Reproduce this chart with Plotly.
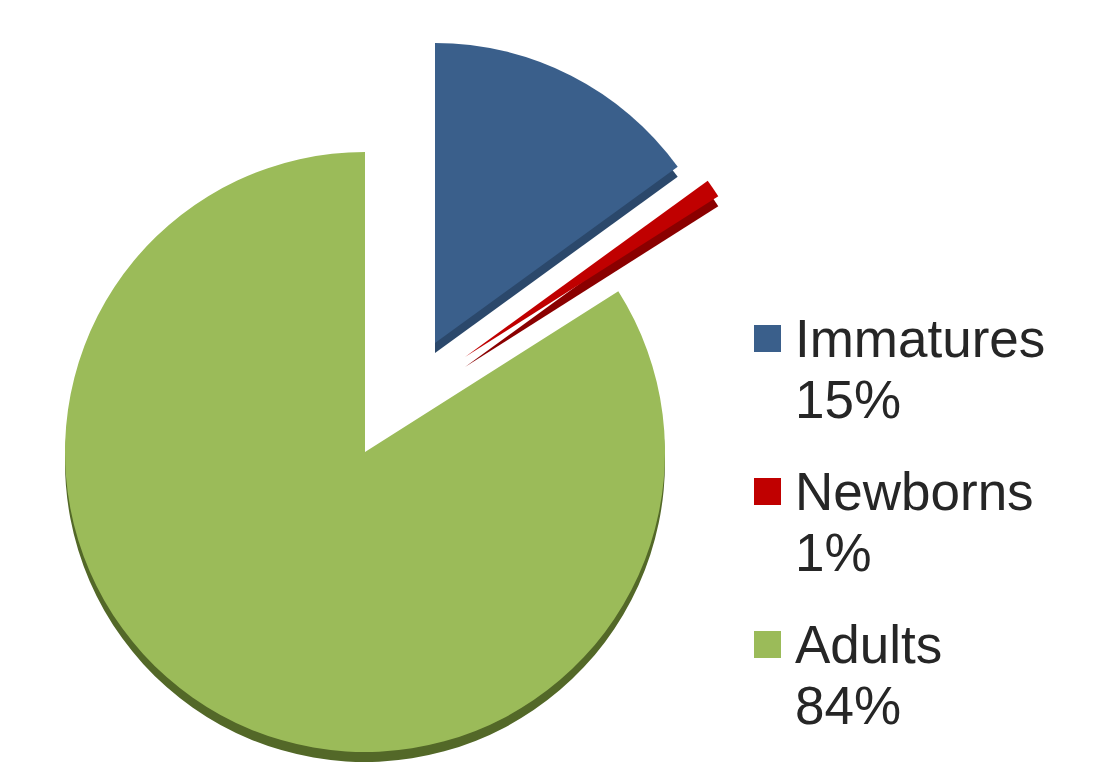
import plotly.graph_objects as go

# ---- data ----
LABELS = ["Immatures", "Newborns", "Adults"]
VALUES = [15, 1, 84]
PCT_LABELS = ["15%", "1%", "84%"]

# ---- styling / layout ----
W, H = 1116, 764
TOP_COLORS = ["#3A5F8B", "#C00000", "#9BBB59"]
SIDE_COLORS = ["#2B486B", "#8A0000", "#536828"]
RADIUS = 300
DEPTH = 10
# centre of each (exploded) slice, in pixels from top-left
CENTERS = {"Immatures": (435, 343), "Newborns": (465, 357), "Adults": (365, 452)}
TEXT_COLOR = "#262626"
FONT = "Liberation Sans, Arial, sans-serif"


def domain_for(cx, cy, r):
    return dict(x=[(cx - r) / W, (cx + r) / W],
                y=[1 - (cy + r) / H, 1 - (cy - r) / H])


def pie_for(idx, colors, dy):
    cx, cy = CENTERS[LABELS[idx]]
    cols = ["rgba(0,0,0,0)"] * len(VALUES)
    cols[idx] = colors[idx]
    return go.Pie(
        labels=LABELS, values=VALUES, sort=False, direction="clockwise",
        rotation=0, textinfo="none", hoverinfo="label+percent",
        marker=dict(colors=cols, line=dict(width=0)),
        domain=domain_for(cx, cy + dy, RADIUS), showlegend=False,
    )


fig = go.Figure()
# darker extruded sides first
for i in range(len(LABELS)):
    fig.add_trace(pie_for(i, SIDE_COLORS, DEPTH))
# top faces
for i in range(len(LABELS)):
    fig.add_trace(pie_for(i, TOP_COLORS, 0))

# legend drawn as squares + text
LEG_SQ_X = (754, 781)
LEG_TEXT_X = 793
LEG_FIRST_MID = 338.5
LEG_STEP = 153
LINE_GAP = 61
FONT_SIZE = 53

shapes = []
annotations = []
for i, (lab, pct) in enumerate(zip(LABELS, PCT_LABELS)):
    mid = LEG_FIRST_MID + i * LEG_STEP
    shapes.append(dict(type="rect", xref="paper", yref="paper",
                       x0=LEG_SQ_X[0] / W, x1=LEG_SQ_X[1] / W,
                       y0=1 - (mid + 13.5) / H, y1=1 - (mid - 13.5) / H,
                       fillcolor=TOP_COLORS[i], line=dict(width=0)))
    for j, txt in enumerate([lab, pct]):
        annotations.append(dict(
            text=txt, xref="paper", yref="paper",
            x=LEG_TEXT_X / W, y=1 - (mid + j * LINE_GAP) / H,
            xanchor="left", yanchor="middle", showarrow=False,
            font=dict(family=FONT, size=FONT_SIZE, color=TEXT_COLOR)))

fig.update_layout(
    width=W, height=H, margin=dict(l=0, r=0, t=0, b=0),
    paper_bgcolor="white", plot_bgcolor="white",
    shapes=shapes, annotations=annotations, showlegend=False,
    font=dict(family=FONT),
)

fig.write_html("out.html")
